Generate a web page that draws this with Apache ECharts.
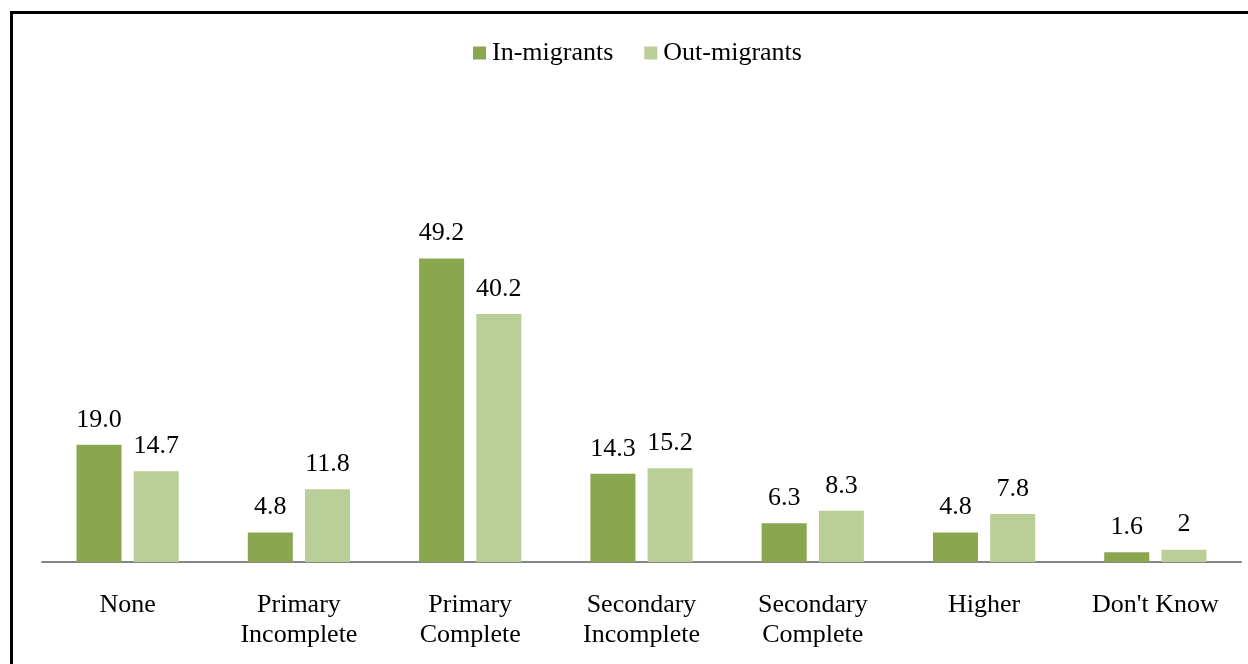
<!DOCTYPE html>
<html>
<head>
<meta charset="utf-8">
<script src="https://cdn.jsdelivr.net/npm/echarts@6/dist/echarts.min.js"></script>
<style>
  html, body { margin: 0; padding: 0; background: #fff; }
  #chart { width: 1248px; height: 664px; }
</style>
</head>
<body>
<div id="chart"></div>
<script>
// Education level of migrants (%)
const categories = ['None', 'Primary\nIncomplete', 'Primary\nComplete', 'Secondary\nIncomplete', 'Secondary\nComplete', 'Higher', "Don't Know"];
const inMigrants = [19.0, 4.8, 49.2, 14.3, 6.3, 4.8, 1.6];
const outMigrants = [14.7, 11.8, 40.2, 15.2, 8.3, 7.8, 2];
const inLabels = ['19.0', '4.8', '49.2', '14.3', '6.3', '4.8', '1.6'];
const outLabels = ['14.7', '11.8', '40.2', '15.2', '8.3', '7.8', '2'];

const font = 'Liberation Serif, Times New Roman, serif';
const chart = echarts.init(document.getElementById('chart'));

chart.setOption({
  animation: false,
  textStyle: { fontFamily: font },
  graphic: [{
    type: 'rect',
    shape: { x: 11.5, y: 12.5, width: 1400, height: 800 },
    style: { fill: 'none', stroke: '#000', lineWidth: 3 },
    silent: true
  }],
  legend: {
    top: 35,
    left: 468,
    itemWidth: 13,
    itemHeight: 13,
    itemGap: 31,
    icon: 'rect',
    textStyle: { fontFamily: font, fontSize: 26, color: '#000', padding: [0, 0, 0, 1] },
    data: ['In-migrants', 'Out-migrants']
  },
  grid: { left: 42, right: 7, top: 192, bottom: 102, containLabel: false },
  xAxis: {
    type: 'category',
    data: categories,
    axisLine: { lineStyle: { color: '#868686', width: 2 } },
    axisTick: { show: false },
    axisLabel: {
      fontFamily: font, fontSize: 26, color: '#000',
      margin: 28, lineHeight: 30, interval: 0
    }
  },
  yAxis: {
    type: 'value',
    min: 0, max: 60,
    show: false,
    splitLine: { show: false }
  },
  series: [
    {
      name: 'In-migrants',
      type: 'bar',
      data: inMigrants,
      barWidth: '26.3%',
      barGap: '27%',
      itemStyle: { color: '#8aa64e' },
      label: {
        show: true, position: 'top', distance: 12,
        fontFamily: font, fontSize: 26, color: '#000',
        formatter: p => inLabels[p.dataIndex]
      }
    },
    {
      name: 'Out-migrants',
      type: 'bar',
      data: outMigrants,
      barWidth: '26.3%',
      barGap: '27%',
      itemStyle: { color: '#b9cf97' },
      label: {
        show: true, position: 'top', distance: 12,
        fontFamily: font, fontSize: 26, color: '#000',
        formatter: p => outLabels[p.dataIndex]
      }
    }
  ]
});
</script>
</body>
</html>
